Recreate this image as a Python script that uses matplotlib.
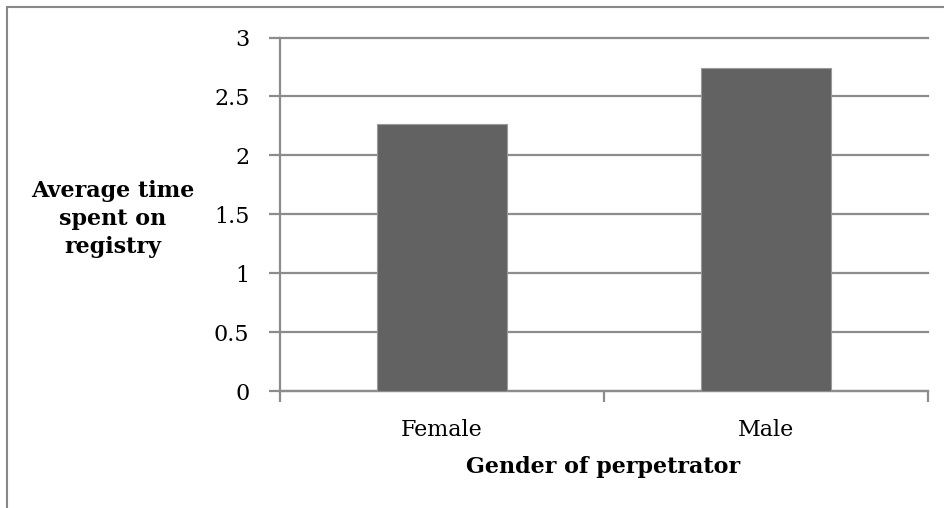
import matplotlib.pyplot as plt
import matplotlib.patches as patches

## Data ##
genders = ['Female', 'Male']
avg_time = [2.27, 2.74]
y_ticks = [0, 0.5, 1, 1.5, 2, 2.5, 3]
y_tick_labels = ['0', '0.5', '1', '1.5', '2', '2.5', '3']

plt.rcParams['font.family'] = ['DejaVu Serif']
grid_col = '#8c8c8c'

fig = plt.figure(figsize=(9.44, 5.08), dpi=100)
ax = fig.add_axes([280/944, 1-391/508, 648/944, 353.5/508])

# outer chart frame (only left/top visible in the reference)
fig.patches.append(patches.Rectangle((7/944, -0.1), 1.1, 1-7/508+0.1, transform=fig.transFigure,
                                     fill=False, edgecolor='#888888', linewidth=1.5))

x = range(len(genders))
ax.bar(x, avg_time, width=0.4, color='#626262', edgecolor='#9a9a9a', linewidth=0.8, zorder=3)

ax.set_xlim(-0.5, 1.5)
ax.set_ylim(0, 3)
ax.set_yticks(y_ticks)
ax.set_yticklabels(y_tick_labels, fontsize=16)
ax.yaxis.grid(True, color=grid_col, linewidth=1.6)
for gl in ax.get_ygridlines():
    gl.set_clip_on(False)
ax.set_axisbelow(True)

# category ticks sit between the bars
ax.set_xticks([-0.5, 0.5, 1.5])
ax.set_xticklabels([])
ax.set_xticks(list(x), minor=True)
ax.set_xticklabels(genders, minor=True, fontsize=16)
ax.tick_params(axis='x', which='minor', length=0, pad=20)
ax.tick_params(axis='x', which='major', length=8, color=grid_col, width=1.6, direction='out')
ax.tick_params(axis='y', length=8, color=grid_col, width=1.6, pad=14)

for s in ['top', 'right']:
    ax.spines[s].set_visible(False)
for s in ['left', 'bottom']:
    ax.spines[s].set_color(grid_col)
    ax.spines[s].set_linewidth(1.6)

fig.text(113/944, 1-219/508, 'Average time\nspent on\nregistry', ha='center', va='center',
         fontsize=16, fontweight='bold', linespacing=1.35)
fig.text(603/944, 1-467/508, 'Gender of perpetrator', ha='center', va='center',
         fontsize=16, fontweight='bold')

fig.savefig('out.png', dpi=100)
